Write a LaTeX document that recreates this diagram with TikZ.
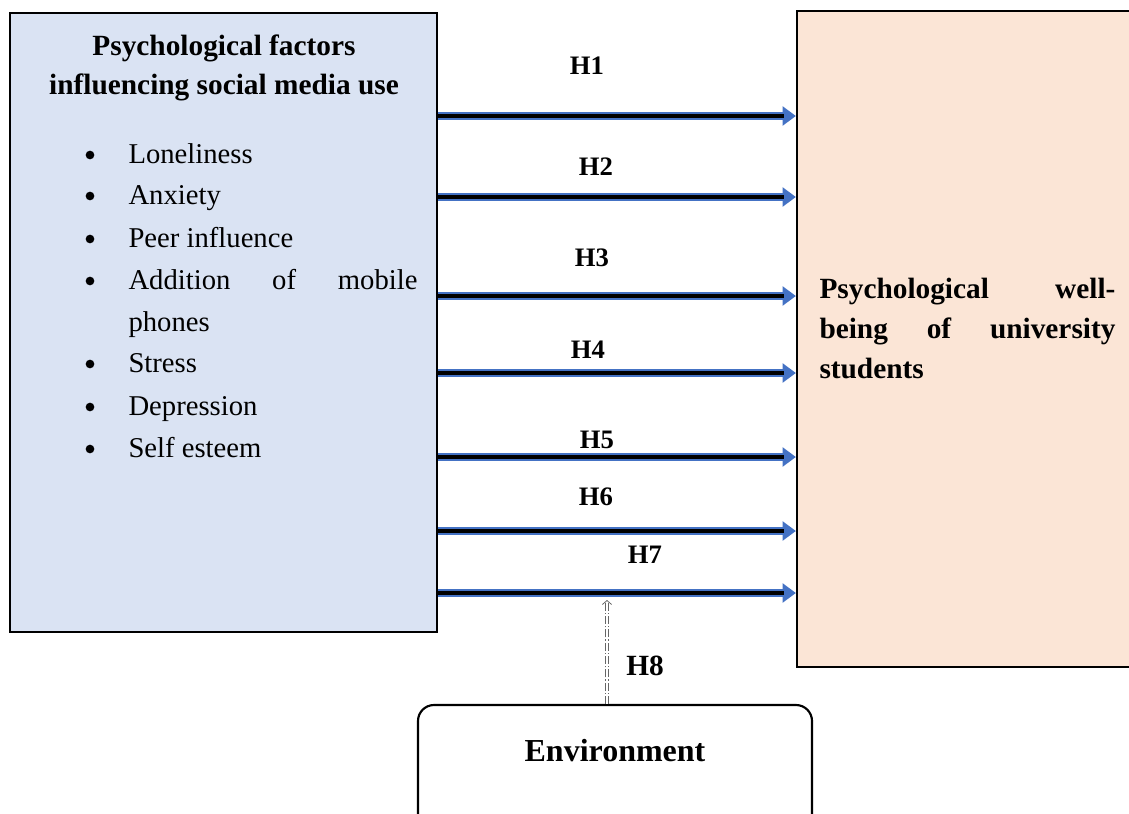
\documentclass[tikz,border=0pt]{standalone}
\usepackage{fontspec}
\setmainfont{Liberation Serif}
\usetikzlibrary{arrows.meta}

\definecolor{factorblue}{RGB}{218,227,243}
\definecolor{wellpeach}{RGB}{251,229,214}
\definecolor{hypblue}{RGB}{68,114,196}

\tikzset{every picture/.style={line width=0.75pt}}

\begin{document}
\begin{tikzpicture}[x=0.75pt,y=0.75pt,yscale=-1,xscale=1,
	boxline/.style={draw=black, line width=1.6pt},
	hyp/.style={draw=hypblue, line width=5.4pt, -{Triangle[length=10pt,width=14pt]},
		postaction={draw=black, line width=2.6pt, -, shorten >=9pt}},
	envlink/.style={draw=gray!80!black, line width=0.6pt, double=white, double distance=1.6pt,
		dash pattern=on 6pt off 1.5pt on 1pt off 1.5pt, -{Straight Barb[length=3pt,width=7pt]}},
	hlabel/.style={font=\fontsize{20}{24}\selectfont\bfseries},
	itemtext/.style={anchor=base west, inner sep=0pt, font=\fontsize{21.5}{31.5}\selectfont},
	welltext/.style={anchor=base west, inner sep=0pt, font=\fontsize{22}{30}\selectfont\bfseries},
	bullet/.style={circle, fill=black, inner sep=0pt, minimum size=6.5pt}]
	\useasboundingbox (0,0) rectangle (1129,814);

	%Shape: Rectangle [factors]
	\node [boxline, fill=factorblue, minimum width=320.25pt, minimum height=464.25pt] (factors) at (223.5,322.5) {};
	%Shape: Rectangle [well-being]
	\node [boxline, fill=wellpeach, minimum width=261pt, minimum height=492pt] (wellbeing) at (971,339) {};
	%Shape: Rounded Rectangle [environment]
	\node [boxline, fill=white, rounded corners=12pt, minimum width=295.5pt, minimum height=93.75pt] (env) at (615,767.5) {};

	% Text Node
	\node [font=\fontsize{22}{29}\selectfont\bfseries, align=center] (title) at (224,68) {Psychological factors\\influencing social media use};
	% Text Node
	\foreach \y/\txt in {163/Loneliness, 204/Anxiety, 247/Peer influence, 289/{\makebox[216.75pt][s]{Addition of mobile}}, 372/Stress, 415/Depression, 457/Self esteem} {
		\node [bullet] (dot\y) at (90,\y-8) {};
		\node [itemtext] (item\y) at (128,\y) {\txt};
	}
	\node [itemtext] (item331) at (128,331) {phones};
	% Text Node
	\node [welltext] (well1) at (819,298) {\makebox[222pt]{Psychological\hfill well-}};
	\node [welltext] (well2) at (819,338) {\makebox[222pt]{being\hfill of\hfill university}};
	\node [welltext] (well3) at (819,378) {students};
	% Text Node
	\node [font=\fontsize{24}{29}\selectfont\bfseries] (envtext) at (615,751) {Environment};

	%Straight Lines [hypotheses]
	\foreach \y in {116,197,296,373,457,531,593} {
		\coordinate (hy) at (0,\y);
		\draw [hyp] (factors.east |- hy) -- (wellbeing.west |- hy);
	}
	% Text Node
	\foreach \n/\x/\y in {1/587/66, 2/596/167, 3/592/258, 4/588/350, 5/597/440, 6/596/497, 7/645/555} {
		\node [hlabel] (h\n) at (\x,\y) {H\n};
	}
	\node [hlabel, font=\fontsize{22}{26}\selectfont\bfseries] (h8) at (645,666) {H8};

	%Straight Lines [H8]
	\coordinate (h8tip) at (607,600);
	\draw [envlink] (env.north -| h8tip) -- (h8tip);

\end{tikzpicture}
\end{document}
